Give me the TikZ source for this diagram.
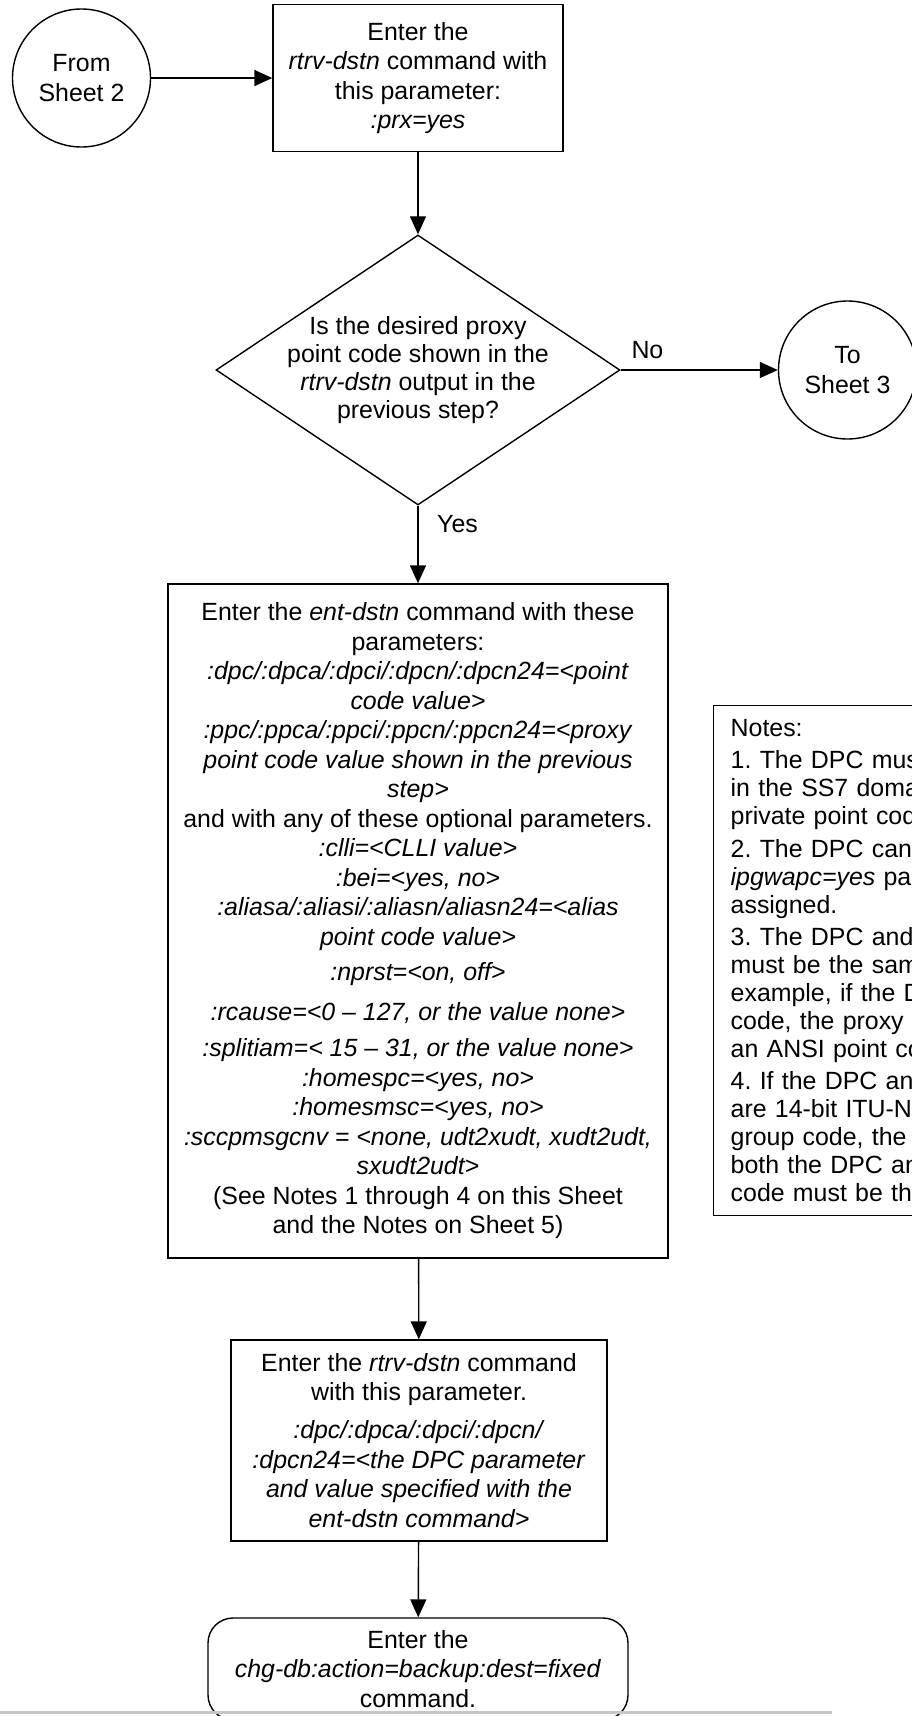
\documentclass[tikz,border=0pt]{standalone}
\usepackage{fontspec}
\setmainfont{Liberation Sans}
\usetikzlibrary{arrows.meta,positioning,shapes.geometric}
\newcommand{\flowfont}[1][29.5]{\fontsize{24.9}{#1}\selectfont\frenchspacing}
\newcommand{\cmd}[1]{\textit{#1}}
\tikzset{
  >={Triangle[length=18pt,width=16pt]},
  proc/.style    ={rectangle, draw, line width=1.4pt, inner sep=0pt,
                   font=\flowfont, align=center},
  term/.style    ={rectangle, rounded corners=25pt, draw, line width=1.4pt,
                   inner sep=0pt, font=\flowfont, align=center},
  decision/.style={diamond, draw, line width=1.4pt, inner sep=0pt,
                   minimum width=404pt, minimum height=270pt},
  offpage/.style ={circle, draw, line width=1.4pt, inner sep=0pt,
                   minimum size=138pt, font=\flowfont, align=center},
  notebox/.style ={rectangle, draw, line width=1.4pt, anchor=north west,
                   inner xsep=17pt, inner ysep=0pt, text width=600pt,
                   font={\flowfont[28]}, align=left},
  txt/.style     ={inner sep=0pt, font={\flowfont[28]}, align=center},
  flow/.style    ={->, draw, line width=1.4pt},
  lbl/.style     ={font=\flowfont, inner sep=0pt},
}

\begin{document}
\begin{tikzpicture}[x=1pt,y=-1pt]
\clip (0,0) rectangle (912,1716);
\node[offpage] (from) at (81.5,78) {From\\Sheet 2};
\node[proc, minimum width=290pt, minimum height=147pt] (rtrvprx) at (418,78) {Enter the\\\cmd{rtrv-dstn} command with\\this parameter:\\\cmd{:prx=yes}};
\node[decision] (prxshown) at (418,370) {};
\node[txt] (prxq) at (prxshown.center) {Is the desired proxy\\point code shown in the\\\cmd{rtrv-dstn} output in the\\previous step?};
\node[offpage] (sheet3) at (847.5,370) {To\\Sheet 3};
\node[proc, minimum width=500pt, minimum height=674pt] (entdstn) at (418,921) {Enter the \cmd{ent-dstn} command with these\\parameters:\\\cmd{:dpc/:dpca/:dpci/:dpcn/:dpcn24=<point}\\\cmd{code value>}\\\cmd{:ppc/:ppca/:ppci/:ppcn/:ppcn24=<proxy}\\\cmd{point code value shown in the previous}\\\cmd{step>}\\and with any of these optional parameters.\\\cmd{:clli=<CLLI value>}\\\cmd{:bei=<yes, no>}\\\cmd{:aliasa/:aliasi/:aliasn/aliasn24=<alias}\\\cmd{point code value>}\\[6pt]\cmd{:nprst=<on, off>}\\[10pt]\cmd{:rcause=<0 -- 127, or the value none>}\\[7pt]\cmd{:splitiam=< 15 -- 31, or the value none>}\\\cmd{:homespc=<yes, no>}\\\cmd{:homesmsc=<yes, no>}\\\cmd{:sccpmsgcnv = <none, udt2xudt, xudt2udt,}\\\cmd{sxudt2udt>}\\(See Notes 1 through 4 on this Sheet\\and the Notes on Sheet 5)};
\node[notebox, minimum height=510pt] (notes) at (713,705) {Notes:\\[4.25pt]1. The DPC must be a full point code\\in the SS7 domain and cannot be a\\private point code.\\[4.25pt]2. The DPC cannot have the\\\cmd{ipgwapc=yes} parameter value\\assigned.\\[4.25pt]3. The DPC and proxy point code\\must be the same network type. For\\example, if the DPC is an ANSI point\\code, the proxy point code must be\\an ANSI point code.\\[4.25pt]4. If the DPC and proxy point code\\are 14-bit ITU-N point codes with a\\group code, the group code of\\both the DPC and proxy point\\code must be the same.};
\node[proc, minimum width=376pt, minimum height=201pt] (rtrvdpc) at (419,1440.5) {Enter the \cmd{rtrv-dstn} command\\with this parameter.\\[8.5pt]\cmd{:dpc/:dpca/:dpci/:dpcn/}\\\cmd{:dpcn24=<the DPC parameter}\\\cmd{and value specified with the}\\\cmd{ent-dstn command>}};
\node[term, minimum width=420pt, minimum height=102pt] (chgdb) at (418,1669) {Enter the\\\cmd{chg-db:action=backup:dest=fixed}\\command.};
\draw[flow] (from) -- (rtrvprx);
\draw[flow] (rtrvprx) -- (prxshown);
\draw[flow] (prxshown) -- node[lbl, pos=0.17, above=11pt] (nolbl) {No} (sheet3);
\draw[flow] (prxshown) -- node[lbl, pos=0.23, right=18.5pt] (yeslbl) {Yes} (entdstn);
\draw[flow] (entdstn) -- (rtrvdpc);
\draw[flow] (rtrvdpc) -- (chgdb);
\draw[gray!45, line width=3pt] (0,1712) -- (832,1712);
\end{tikzpicture}
\end{document}
